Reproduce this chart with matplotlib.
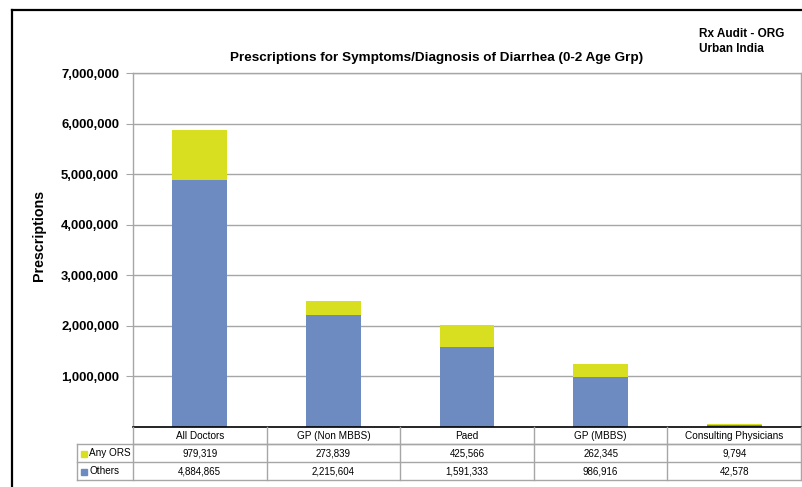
import matplotlib
matplotlib.use("Agg")
import matplotlib.pyplot as plt
from matplotlib.lines import Line2D
from matplotlib.patches import Rectangle
from matplotlib.ticker import FuncFormatter
import matplotlib.transforms as mtransforms

plt.rcParams['font.family'] = ['Liberation Sans', 'DejaVu Sans']

# Prescription counts by doctor type
categories = ["All Doctors", "GP (Non MBBS)", "Paed", "GP (MBBS)", "Consulting Physicians"]
any_ors = [979319, 273839, 425566, 262345, 9794]
others = [4884865, 2215604, 1591333, 986916, 42578]
series_names = ["Any ORS", "Others"]
yticks = [1000000, 2000000, 3000000, 4000000, 5000000, 6000000, 7000000]

BLUE = "#6e8bc1"
YELLOW = "#d8df21"
GRID = "#a6a6a6"

W, H = 802, 487
fig = plt.figure(figsize=(W / 100, H / 100), dpi=100)

# plot area in pixel terms
left_px, right_px, top_px, bottom_px = 133, 801, 73, 427
ax = fig.add_axes([left_px / W, (H - bottom_px) / H,
                   (right_px - left_px) / W, (bottom_px - top_px) / H])

x = list(range(len(categories)))
ax.bar(x, others, width=0.41, color=BLUE, zorder=3)
ax.bar(x, any_ors, width=0.41, bottom=others, color=YELLOW, zorder=3)

ax.set_xlim(-0.5, len(categories) - 0.5)
ax.set_ylim(0, 7000000)
ax.set_yticks(yticks)
ax.yaxis.set_major_formatter(FuncFormatter(lambda v, p: f"{int(v):,}"))
ax.set_xticks([])
ax.grid(axis="y", color=GRID, lw=1, zorder=0)
for s in ("left", "right", "top"):
    ax.spines[s].set_color(GRID)
    ax.spines[s].set_linewidth(1)
ax.spines["bottom"].set_color("black")
ax.spines["bottom"].set_linewidth(1.2)
ax.spines["bottom"].set_zorder(4)
ax.tick_params(axis="y", length=5, color=GRID, pad=5, labelsize=9.4)
for lbl in ax.get_yticklabels():
    lbl.set_fontweight("bold")

ax.set_ylabel("Prescriptions", fontsize=10.3, fontweight="bold")
ax.yaxis.set_label_coords(-(left_px - 46) / (right_px - left_px), 0.54)

fig.text(437 / W, 1 - 58 / H, "Prescriptions for Symptoms/Diagnosis of Diarrhea (0-2 Age Grp)",
         ha="center", va="center", fontsize=9.7, fontweight="bold")
fig.text(699 / W, 1 - 28 / H, "Rx Audit - ORG\nUrban India", ha="left", va="top",
         fontsize=8.5, fontweight="bold", linespacing=1.3)

# data table beneath the bars
trans = mtransforms.blended_transform_factory(ax.transData, fig.transFigure)
def fy(py):
    return 1 - py / H

n = len(categories)
leg_left = (77 - left_px) / (right_px - left_px) * n - 0.5

lines = [
    ([-0.5, n - 0.5], [fy(444)] * 2),
    ([leg_left, n - 0.5], [fy(444)] * 2),
    ([leg_left, n - 0.5], [fy(462)] * 2),
    ([leg_left, n - 0.5], [fy(480)] * 2),
    ([leg_left] * 2, [fy(444), fy(480)]),
]
for k in range(n + 1):
    lines.append(([k - 0.5] * 2, [fy(427), fy(480)]))
for xs, ys in lines:
    fig.add_artist(Line2D(xs, ys, transform=trans, color=GRID, lw=1))

label_fs = 7.2
num_fs = 7.0
for i, c in enumerate(categories):
    fig.text(i, fy(436), c, transform=trans, ha="center", va="center", fontsize=label_fs)
    fig.text(i, fy(453.5), f"{any_ors[i]:,}", transform=trans, ha="center", va="center", fontsize=num_fs)
    fig.text(i, fy(471.5), f"{others[i]:,}", transform=trans, ha="center", va="center", fontsize=num_fs)

for name, color, yc in zip(series_names, [YELLOW, BLUE], [453.5, 471.5]):
    fig.add_artist(Rectangle((81 / W, fy(yc + 3)), 6 / W, 6 / H,
                             transform=fig.transFigure, color=color))
    fig.text(89 / W, fy(yc), name, ha="left", va="center", fontsize=7.2)

# outer frame
fig.add_artist(Line2D([12 / W, 12 / W], [0, fy(10)], color="black", lw=1.6))
fig.add_artist(Line2D([12 / W, 1], [fy(10), fy(10)], color="black", lw=1.6))

fig.savefig("out.png", dpi=100)
